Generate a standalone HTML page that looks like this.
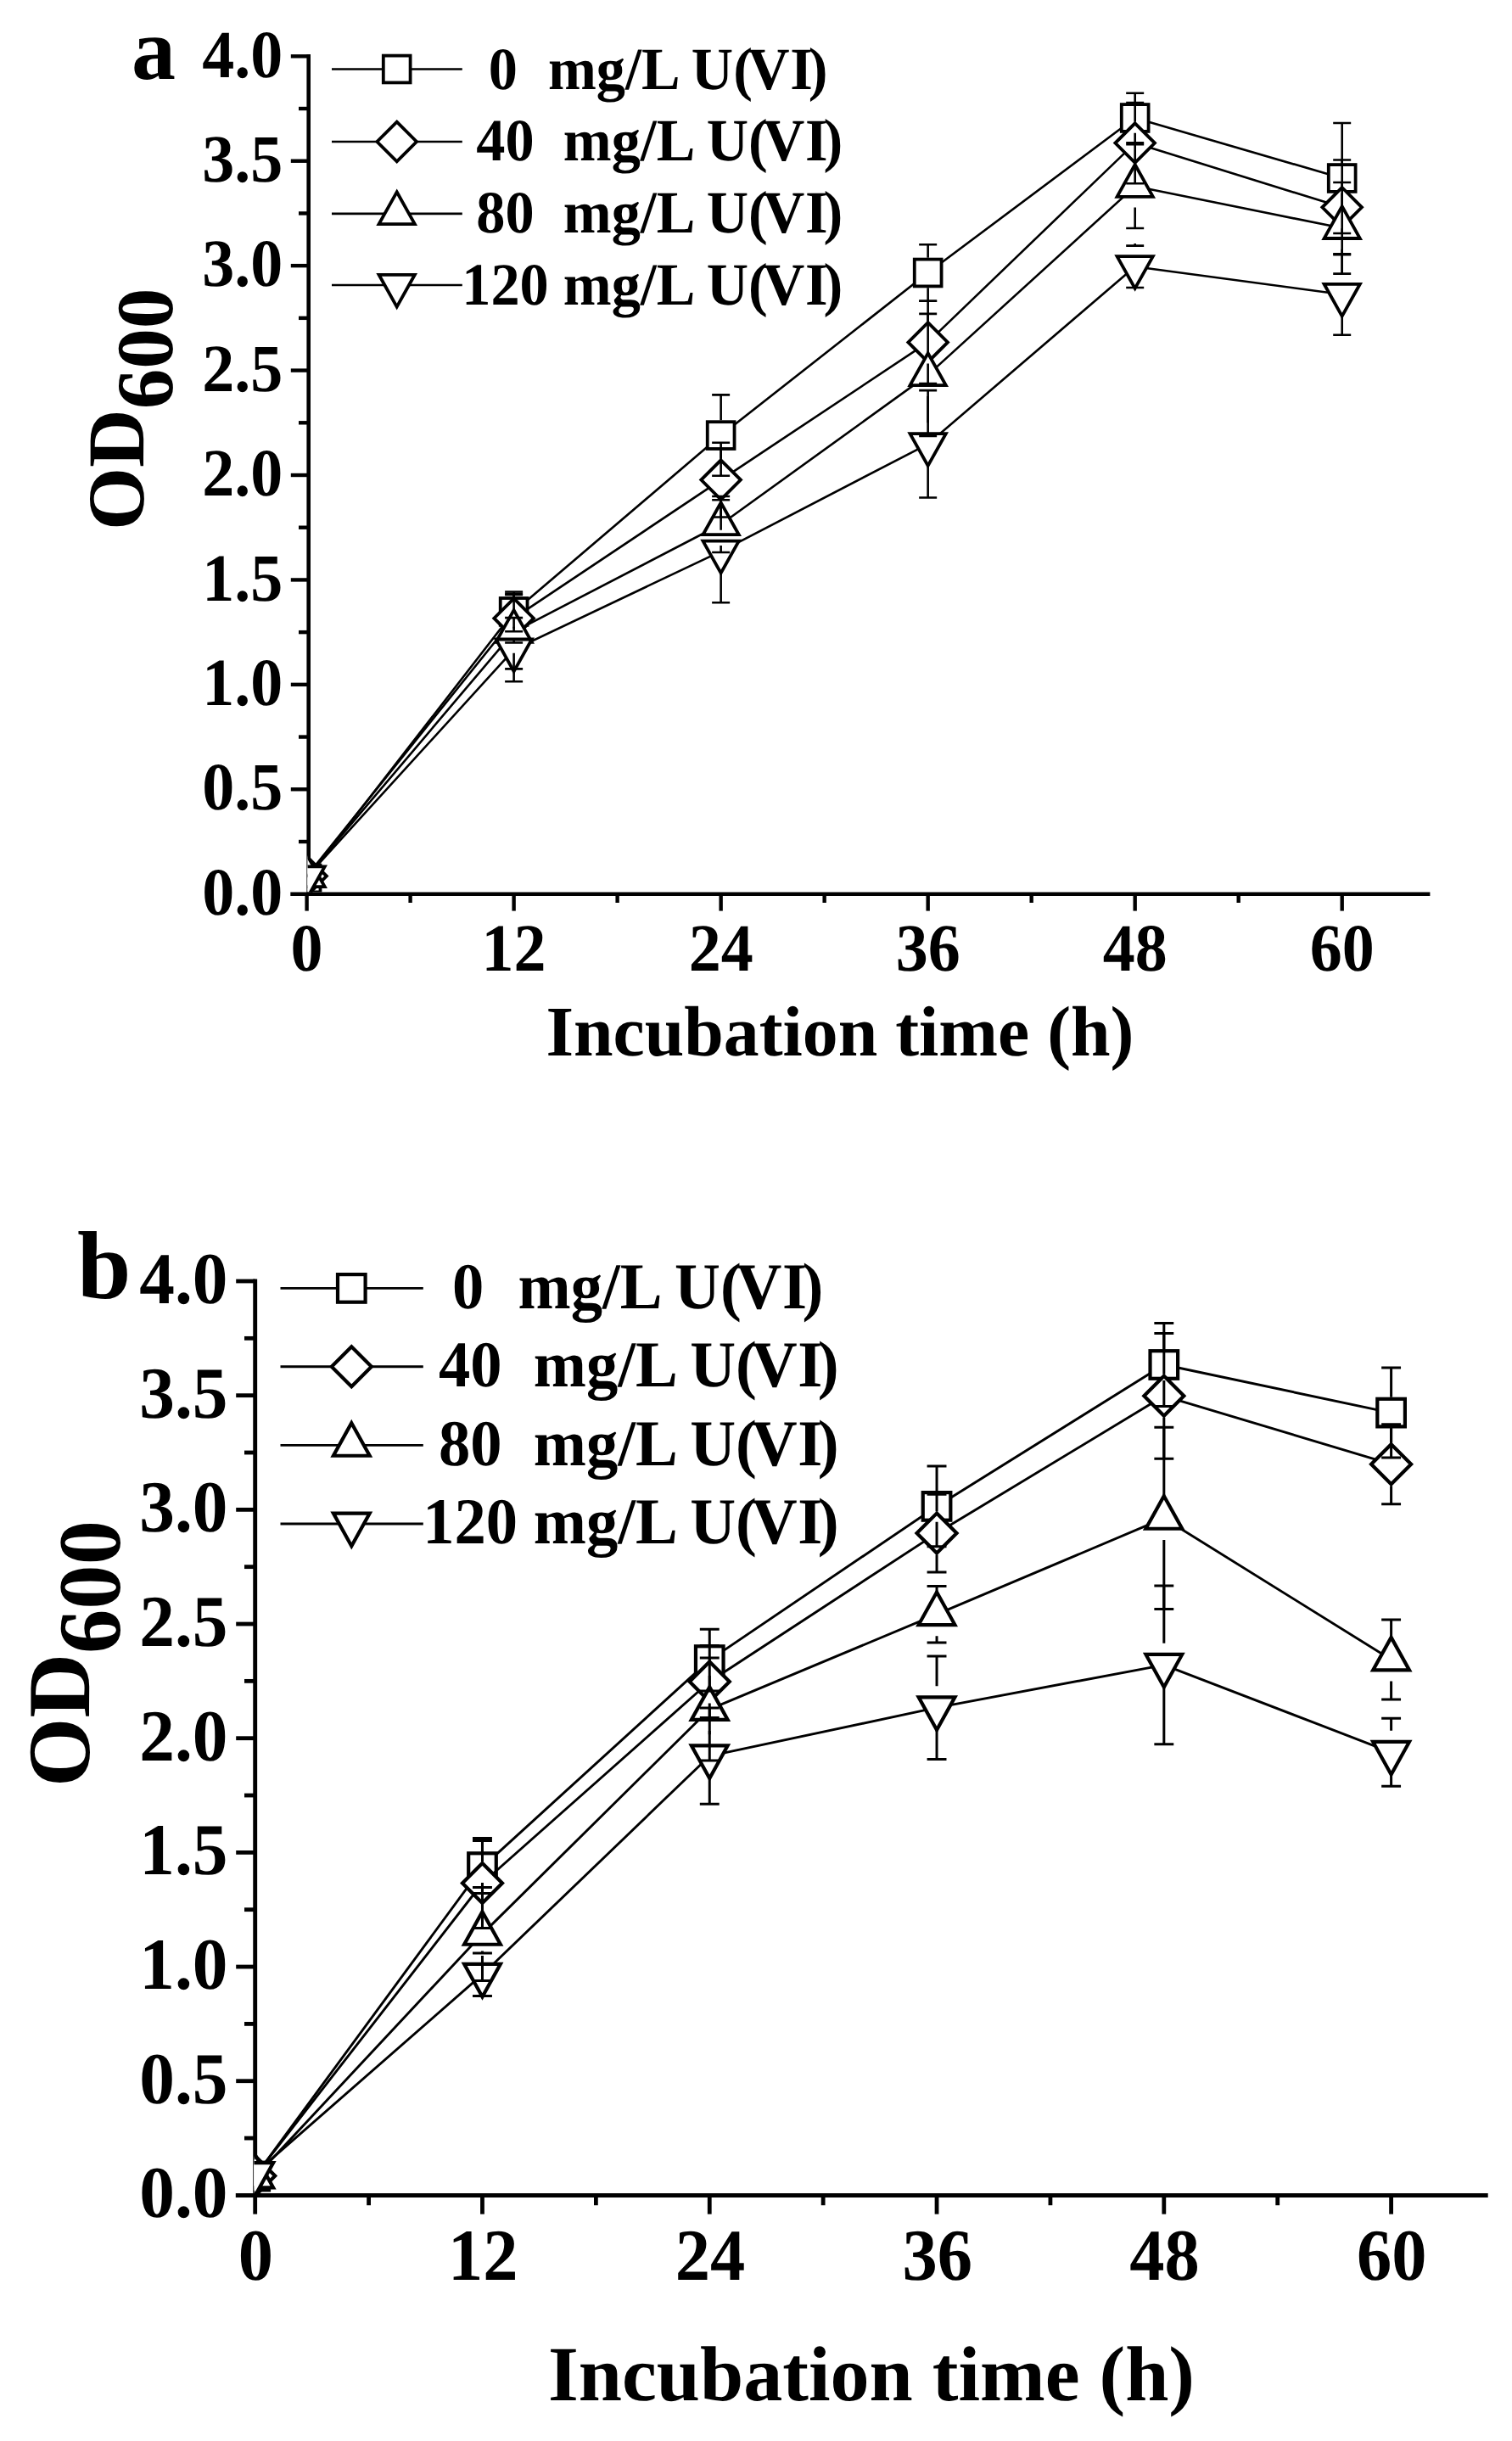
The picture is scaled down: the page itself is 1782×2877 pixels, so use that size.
<!DOCTYPE html>
<html lang="en">
<head>
<meta charset="utf-8">
<title>OD600 growth curves under U(VI) exposure</title>
<style>
html,body{margin:0;padding:0;background:#fff;}
body{width:1782px;height:2877px;overflow:hidden;}
svg{display:block;}
</style>
</head>
<body>
<svg width="1782" height="2877" viewBox="0 0 1782 2877" text-rendering="geometricPrecision">
<rect width="1782" height="2877" fill="#fff"/>
<clipPath id="clipa"><rect x="362.6" y="26.3" width="1352.8" height="1025.1"/></clipPath>
<g stroke="#000" fill="none" stroke-linecap="butt">
<line x1="363.7" y1="64.1" x2="363.7" y2="1056" stroke-width="4.6"/>
<line x1="352" y1="991.99" x2="363.7" y2="991.99" stroke-width="4.4"/>
<line x1="342.8" y1="930.28" x2="363.7" y2="930.28" stroke-width="4.4"/>
<line x1="352" y1="868.56" x2="363.7" y2="868.56" stroke-width="4.4"/>
<line x1="342.8" y1="806.85" x2="363.7" y2="806.85" stroke-width="4.4"/>
<line x1="352" y1="745.14" x2="363.7" y2="745.14" stroke-width="4.4"/>
<line x1="342.8" y1="683.43" x2="363.7" y2="683.43" stroke-width="4.4"/>
<line x1="352" y1="621.71" x2="363.7" y2="621.71" stroke-width="4.4"/>
<line x1="342.8" y1="560" x2="363.7" y2="560" stroke-width="4.4"/>
<line x1="352" y1="498.29" x2="363.7" y2="498.29" stroke-width="4.4"/>
<line x1="342.8" y1="436.58" x2="363.7" y2="436.58" stroke-width="4.4"/>
<line x1="352" y1="374.86" x2="363.7" y2="374.86" stroke-width="4.4"/>
<line x1="342.8" y1="313.15" x2="363.7" y2="313.15" stroke-width="4.4"/>
<line x1="352" y1="251.44" x2="363.7" y2="251.44" stroke-width="4.4"/>
<line x1="342.8" y1="189.73" x2="363.7" y2="189.73" stroke-width="4.4"/>
<line x1="352" y1="128.01" x2="363.7" y2="128.01" stroke-width="4.4"/>
<line x1="342.8" y1="66.3" x2="363.7" y2="66.3" stroke-width="4.4"/>
</g>
<g clip-path="url(#clipa)">
<polyline fill="none" stroke="#000" stroke-width="2.6" stroke-linejoin="round" points="361.6,1035.5 605.62,720.9 849.64,513.1 1093.66,321.5 1337.68,139 1581.7,210"/>
<rect x="345.7" y="1019.6" width="31.8" height="31.8" fill="#fff" stroke="#000" stroke-width="3.8" stroke-linejoin="miter" stroke-miterlimit="10"/>
<rect x="589.72" y="705" width="31.8" height="31.8" fill="#fff" stroke="#000" stroke-width="3.8" stroke-linejoin="miter" stroke-miterlimit="10"/>
<rect x="833.74" y="497.2" width="31.8" height="31.8" fill="#fff" stroke="#000" stroke-width="3.8" stroke-linejoin="miter" stroke-miterlimit="10"/>
<rect x="1077.76" y="305.6" width="31.8" height="31.8" fill="#fff" stroke="#000" stroke-width="3.8" stroke-linejoin="miter" stroke-miterlimit="10"/>
<rect x="1321.78" y="123.1" width="31.8" height="31.8" fill="#fff" stroke="#000" stroke-width="3.8" stroke-linejoin="miter" stroke-miterlimit="10"/>
<rect x="1565.8" y="194.1" width="31.8" height="31.8" fill="#fff" stroke="#000" stroke-width="3.8" stroke-linejoin="miter" stroke-miterlimit="10"/>
<polyline fill="none" stroke="#000" stroke-width="2.6" stroke-linejoin="round" points="361.6,1032.6 605.62,728.7 849.64,565.6 1093.66,403.4 1337.68,168.6 1581.7,244.3"/>
<polygon points="361.6,1009.3 384.9,1032.6 361.6,1055.9 338.3,1032.6" fill="#fff" stroke="#000" stroke-width="3.8" stroke-linejoin="miter" stroke-miterlimit="10"/>
<polygon points="605.62,705.4 628.92,728.7 605.62,752 582.32,728.7" fill="#fff" stroke="#000" stroke-width="3.8" stroke-linejoin="miter" stroke-miterlimit="10"/>
<polygon points="849.64,542.3 872.94,565.6 849.64,588.9 826.34,565.6" fill="#fff" stroke="#000" stroke-width="3.8" stroke-linejoin="miter" stroke-miterlimit="10"/>
<polygon points="1093.66,380.1 1116.96,403.4 1093.66,426.7 1070.36,403.4" fill="#fff" stroke="#000" stroke-width="3.8" stroke-linejoin="miter" stroke-miterlimit="10"/>
<polygon points="1337.68,145.3 1360.98,168.6 1337.68,191.9 1314.38,168.6" fill="#fff" stroke="#000" stroke-width="3.8" stroke-linejoin="miter" stroke-miterlimit="10"/>
<polygon points="1581.7,221 1605,244.3 1581.7,267.6 1558.4,244.3" fill="#fff" stroke="#000" stroke-width="3.8" stroke-linejoin="miter" stroke-miterlimit="10"/>
<polyline fill="none" stroke="#000" stroke-width="2.6" stroke-linejoin="round" points="361.6,1033 605.62,744.7 849.64,618 1093.66,441.9 1337.68,219.6 1581.7,268.8"/>
<polygon points="361.6,1007.38 382.75,1045.21 340.45,1045.21" fill="#fff" stroke="#000" stroke-width="3.8" stroke-linejoin="miter" stroke-miterlimit="10"/>
<polygon points="605.62,719.08 626.77,756.91 584.47,756.91" fill="#fff" stroke="#000" stroke-width="3.8" stroke-linejoin="miter" stroke-miterlimit="10"/>
<polygon points="849.64,592.38 870.79,630.21 828.49,630.21" fill="#fff" stroke="#000" stroke-width="3.8" stroke-linejoin="miter" stroke-miterlimit="10"/>
<polygon points="1093.66,416.28 1114.81,454.11 1072.51,454.11" fill="#fff" stroke="#000" stroke-width="3.8" stroke-linejoin="miter" stroke-miterlimit="10"/>
<polygon points="1337.68,193.98 1358.83,231.81 1316.53,231.81" fill="#fff" stroke="#000" stroke-width="3.8" stroke-linejoin="miter" stroke-miterlimit="10"/>
<polygon points="1581.7,243.18 1602.85,281.01 1560.55,281.01" fill="#fff" stroke="#000" stroke-width="3.8" stroke-linejoin="miter" stroke-miterlimit="10"/>
<polyline fill="none" stroke="#000" stroke-width="2.6" stroke-linejoin="round" points="361.6,1033.5 605.62,765.7 849.64,649.8 1093.66,523.3 1337.68,314.3 1581.7,347"/>
<polygon points="361.6,1059.12 382.75,1021.29 340.45,1021.29" fill="#fff" stroke="#000" stroke-width="3.8" stroke-linejoin="miter" stroke-miterlimit="10"/>
<polygon points="605.62,791.32 626.77,753.49 584.47,753.49" fill="#fff" stroke="#000" stroke-width="3.8" stroke-linejoin="miter" stroke-miterlimit="10"/>
<polygon points="849.64,675.42 870.79,637.59 828.49,637.59" fill="#fff" stroke="#000" stroke-width="3.8" stroke-linejoin="miter" stroke-miterlimit="10"/>
<polygon points="1093.66,548.92 1114.81,511.09 1072.51,511.09" fill="#fff" stroke="#000" stroke-width="3.8" stroke-linejoin="miter" stroke-miterlimit="10"/>
<polygon points="1337.68,339.92 1358.83,302.09 1316.53,302.09" fill="#fff" stroke="#000" stroke-width="3.8" stroke-linejoin="miter" stroke-miterlimit="10"/>
<polygon points="1581.7,372.62 1602.85,334.79 1560.55,334.79" fill="#fff" stroke="#000" stroke-width="3.8" stroke-linejoin="miter" stroke-miterlimit="10"/>
<g stroke="#000" fill="none" stroke-width="2.6" stroke-linecap="butt">
<path d="M595.12 697.5H616.12M605.62 703.1V697.5M595.12 744.3H616.12M605.62 738.7V744.3"/>
<path d="M839.14 465.4H860.14M849.64 495.3V465.4M839.14 560.8H860.14M849.64 530.9V560.8"/>
<path d="M1083.16 288.3H1104.16M1093.66 303.7V288.3M1083.16 354.7H1104.16M1093.66 339.3V354.7"/>
<path d="M1327.18 109.8H1348.18M1337.68 121.2V109.8M1327.18 168.2H1348.18M1337.68 156.8V168.2"/>
<path d="M1571.2 145H1592.2M1581.7 192.2V145M1571.2 275H1592.2M1581.7 227.8V275"/>
<path d="M595.12 699.9H616.12M605.62 703.7V699.9M595.12 757.5H616.12M605.62 753.7V757.5"/>
<path d="M839.14 521.7H860.14M849.64 540.6V521.7M839.14 609.5H860.14M849.64 590.6V609.5"/>
<path d="M1083.16 354.7H1104.16M1093.66 378.4V354.7M1083.16 452.1H1104.16M1093.66 428.4V452.1"/>
<path d="M1327.18 121H1348.18M1337.68 143.6V121M1327.18 216.2H1348.18M1337.68 193.6V216.2"/>
<path d="M1571.2 188.5H1592.2M1581.7 219.3V188.5M1571.2 300.1H1592.2M1581.7 269.3V300.1"/>
<path d="M595.12 701H616.12M605.62 719.7V701M595.12 788.4H616.12M605.62 769.7V788.4"/>
<path d="M839.14 585H860.14M849.64 593V585M839.14 651H860.14M849.64 643V651"/>
<path d="M1083.16 369.9H1104.16M1093.66 416.9V369.9M1083.16 513.9H1104.16M1093.66 466.9V513.9"/>
<path d="M1327.18 170.2H1348.18M1337.68 194.6V170.2M1327.18 269H1348.18M1337.68 244.6V269"/>
<path d="M1571.2 215H1592.2M1581.7 243.8V215M1571.2 322.6H1592.2M1581.7 293.8V322.6"/>
<path d="M595.12 728.1H616.12M605.62 740.7V728.1M595.12 803.3H616.12M605.62 790.7V803.3"/>
<path d="M839.14 589.3H860.14M849.64 624.8V589.3M839.14 710.3H860.14M849.64 674.8V710.3"/>
<path d="M1083.16 460.1H1104.16M1093.66 498.3V460.1M1083.16 586.5H1104.16M1093.66 548.3V586.5"/>
<path d="M1327.18 289.6H1348.18M1337.68 289.6V287.1M1327.18 339H1348.18M1337.68 339V341.5"/>
<path d="M1571.2 299.2H1592.2M1581.7 322V299.2M1571.2 394.8H1592.2M1581.7 372V394.8"/>
</g>
</g>
<g stroke="#000" fill="none" stroke-linecap="butt">
<line x1="342.3" y1="1053.7" x2="1685.4" y2="1053.7" stroke-width="4.6"/>
<line x1="361.6" y1="1053.7" x2="361.6" y2="1073.6" stroke-width="4.4"/>
<line x1="483.61" y1="1053.7" x2="483.61" y2="1064" stroke-width="4.4"/>
<line x1="605.62" y1="1053.7" x2="605.62" y2="1073.6" stroke-width="4.4"/>
<line x1="727.63" y1="1053.7" x2="727.63" y2="1064" stroke-width="4.4"/>
<line x1="849.64" y1="1053.7" x2="849.64" y2="1073.6" stroke-width="4.4"/>
<line x1="971.65" y1="1053.7" x2="971.65" y2="1064" stroke-width="4.4"/>
<line x1="1093.66" y1="1053.7" x2="1093.66" y2="1073.6" stroke-width="4.4"/>
<line x1="1215.67" y1="1053.7" x2="1215.67" y2="1064" stroke-width="4.4"/>
<line x1="1337.68" y1="1053.7" x2="1337.68" y2="1073.6" stroke-width="4.4"/>
<line x1="1459.69" y1="1053.7" x2="1459.69" y2="1064" stroke-width="4.4"/>
<line x1="1581.7" y1="1053.7" x2="1581.7" y2="1073.6" stroke-width="4.4"/>
</g>
<g font-family='"Liberation Serif", "DejaVu Serif", serif' font-weight="bold" fill="#000">
<text transform="translate(333.2 1077.9) scale(1.0000 1.0470)" font-size="76" text-anchor="end">0.0</text>
<text transform="translate(333.2 954.48) scale(1.0000 1.0470)" font-size="76" text-anchor="end">0.5</text>
<text transform="translate(333.2 831.05) scale(1.0000 1.0470)" font-size="76" text-anchor="end">1.0</text>
<text transform="translate(333.2 707.63) scale(1.0000 1.0470)" font-size="76" text-anchor="end">1.5</text>
<text transform="translate(333.2 584.2) scale(1.0000 1.0470)" font-size="76" text-anchor="end">2.0</text>
<text transform="translate(333.2 460.78) scale(1.0000 1.0470)" font-size="76" text-anchor="end">2.5</text>
<text transform="translate(333.2 337.35) scale(1.0000 1.0470)" font-size="76" text-anchor="end">3.0</text>
<text transform="translate(333.2 213.93) scale(1.0000 1.0470)" font-size="76" text-anchor="end">3.5</text>
<text transform="translate(333.2 90.5) scale(1.0000 1.0470)" font-size="76" text-anchor="end">4.0</text>
<text transform="translate(361.6 1144.4) scale(1.0000 1.0470)" font-size="76" text-anchor="middle">0</text>
<text transform="translate(605.62 1144.4) scale(1.0000 1.0470)" font-size="76" text-anchor="middle">12</text>
<text transform="translate(849.64 1144.4) scale(1.0000 1.0470)" font-size="76" text-anchor="middle">24</text>
<text transform="translate(1093.66 1144.4) scale(1.0000 1.0470)" font-size="76" text-anchor="middle">36</text>
<text transform="translate(1337.68 1144.4) scale(1.0000 1.0470)" font-size="76" text-anchor="middle">48</text>
<text transform="translate(1581.7 1144.4) scale(1.0000 1.0470)" font-size="76" text-anchor="middle">60</text>
<text transform="translate(643.4 1244.3) scale(1.0087 1.0120)" font-size="83">Incubation time (h)</text>
<text transform="translate(169.4 625.1) rotate(-90)" font-size="95.2">OD<tspan dy="34" dx="0">600</tspan></text>
<text transform="translate(155 93) scale(1.0000 1.0000)" font-size="104">a</text>
</g>
<line x1="391" y1="81.5" x2="544.8" y2="81.5" stroke="#000" stroke-width="2.6"/>
<rect x="451.8" y="65.6" width="31.8" height="31.8" fill="#fff" stroke="#000" stroke-width="3.8" stroke-linejoin="miter" stroke-miterlimit="10"/>
<text transform="translate(0 105) scale(1 1.0350)" font-family='"Liberation Serif", "DejaVu Serif", serif' font-weight="bold" font-size="68.3"><tspan x="609.85" text-anchor="end">0</tspan><tspan x="628.92"> mg/L U(</tspan><tspan x="881.29">V</tspan><tspan x="931.15">I</tspan><tspan x="952.67">)</tspan></text>
<line x1="391" y1="167" x2="544.8" y2="167" stroke="#000" stroke-width="2.6"/>
<polygon points="467.7,143.7 491,167 467.7,190.3 444.4,167" fill="#fff" stroke="#000" stroke-width="3.8" stroke-linejoin="miter" stroke-miterlimit="10"/>
<text transform="translate(0 188.5) scale(1 1.0350)" font-family='"Liberation Serif", "DejaVu Serif", serif' font-weight="bold" font-size="68.3"><tspan x="629.65" text-anchor="end">40</tspan><tspan x="646.72"> mg/L U(</tspan><tspan x="899.09">V</tspan><tspan x="948.95">I</tspan><tspan x="970.47">)</tspan></text>
<line x1="391" y1="251.9" x2="544.8" y2="251.9" stroke="#000" stroke-width="2.6"/>
<polygon points="467.7,226.28 488.85,264.11 446.55,264.11" fill="#fff" stroke="#000" stroke-width="3.8" stroke-linejoin="miter" stroke-miterlimit="10"/>
<text transform="translate(0 273.8) scale(1 1.0350)" font-family='"Liberation Serif", "DejaVu Serif", serif' font-weight="bold" font-size="68.3"><tspan x="629.65" text-anchor="end">80</tspan><tspan x="646.72"> mg/L U(</tspan><tspan x="899.09">V</tspan><tspan x="948.95">I</tspan><tspan x="970.47">)</tspan></text>
<line x1="391" y1="336" x2="544.8" y2="336" stroke="#000" stroke-width="2.6"/>
<polygon points="467.7,361.62 488.85,323.79 446.55,323.79" fill="#fff" stroke="#000" stroke-width="3.8" stroke-linejoin="miter" stroke-miterlimit="10"/>
<text transform="translate(0 359) scale(1 1.0350)" font-family='"Liberation Serif", "DejaVu Serif", serif' font-weight="bold" font-size="68.3"><tspan x="646.72" text-anchor="end">120</tspan><tspan x="646.72"> mg/L U(</tspan><tspan x="899.09">V</tspan><tspan x="948.95">I</tspan><tspan x="970.47">)</tspan></text>
<clipPath id="clipb"><rect x="299.45" y="1470" width="1484.25" height="1114.9"/></clipPath>
<g stroke="#000" fill="none" stroke-linecap="butt">
<line x1="300.7" y1="1507.6" x2="300.7" y2="2589.9" stroke-width="4.9"/>
<line x1="288" y1="2520.06" x2="300.7" y2="2520.06" stroke-width="4.8"/>
<line x1="278.2" y1="2452.72" x2="300.7" y2="2452.72" stroke-width="4.8"/>
<line x1="288" y1="2385.39" x2="300.7" y2="2385.39" stroke-width="4.8"/>
<line x1="278.2" y1="2318.05" x2="300.7" y2="2318.05" stroke-width="4.8"/>
<line x1="288" y1="2250.71" x2="300.7" y2="2250.71" stroke-width="4.8"/>
<line x1="278.2" y1="2183.38" x2="300.7" y2="2183.38" stroke-width="4.8"/>
<line x1="288" y1="2116.04" x2="300.7" y2="2116.04" stroke-width="4.8"/>
<line x1="278.2" y1="2048.7" x2="300.7" y2="2048.7" stroke-width="4.8"/>
<line x1="288" y1="1981.36" x2="300.7" y2="1981.36" stroke-width="4.8"/>
<line x1="278.2" y1="1914.03" x2="300.7" y2="1914.03" stroke-width="4.8"/>
<line x1="288" y1="1846.69" x2="300.7" y2="1846.69" stroke-width="4.8"/>
<line x1="278.2" y1="1779.35" x2="300.7" y2="1779.35" stroke-width="4.8"/>
<line x1="288" y1="1712.01" x2="300.7" y2="1712.01" stroke-width="4.8"/>
<line x1="278.2" y1="1644.67" x2="300.7" y2="1644.67" stroke-width="4.8"/>
<line x1="288" y1="1577.34" x2="300.7" y2="1577.34" stroke-width="4.8"/>
<line x1="278.2" y1="1510" x2="300.7" y2="1510" stroke-width="4.8"/>
</g>
<g clip-path="url(#clipb)">
<polyline fill="none" stroke="#000" stroke-width="2.9" stroke-linejoin="round" points="300.7,2565 568.48,2200.6 836.26,1956.6 1104.04,1775.4 1371.82,1608.5 1639.6,1665.1"/>
<rect x="284.4" y="2548.7" width="32.6" height="32.6" fill="#fff" stroke="#000" stroke-width="4.2" stroke-linejoin="miter" stroke-miterlimit="10"/>
<rect x="552.18" y="2184.3" width="32.6" height="32.6" fill="#fff" stroke="#000" stroke-width="4.2" stroke-linejoin="miter" stroke-miterlimit="10"/>
<rect x="819.96" y="1940.3" width="32.6" height="32.6" fill="#fff" stroke="#000" stroke-width="4.2" stroke-linejoin="miter" stroke-miterlimit="10"/>
<rect x="1087.74" y="1759.1" width="32.6" height="32.6" fill="#fff" stroke="#000" stroke-width="4.2" stroke-linejoin="miter" stroke-miterlimit="10"/>
<rect x="1355.52" y="1592.2" width="32.6" height="32.6" fill="#fff" stroke="#000" stroke-width="4.2" stroke-linejoin="miter" stroke-miterlimit="10"/>
<rect x="1623.3" y="1648.8" width="32.6" height="32.6" fill="#fff" stroke="#000" stroke-width="4.2" stroke-linejoin="miter" stroke-miterlimit="10"/>
<polyline fill="none" stroke="#000" stroke-width="2.9" stroke-linejoin="round" points="300.7,2564.5 568.48,2219.5 836.26,1982 1104.04,1807.1 1371.82,1645.3 1639.6,1725.7"/>
<polygon points="300.7,2541 324.2,2564.5 300.7,2588 277.2,2564.5" fill="#fff" stroke="#000" stroke-width="4.2" stroke-linejoin="miter" stroke-miterlimit="10"/>
<polygon points="568.48,2196 591.98,2219.5 568.48,2243 544.98,2219.5" fill="#fff" stroke="#000" stroke-width="4.2" stroke-linejoin="miter" stroke-miterlimit="10"/>
<polygon points="836.26,1958.5 859.76,1982 836.26,2005.5 812.76,1982" fill="#fff" stroke="#000" stroke-width="4.2" stroke-linejoin="miter" stroke-miterlimit="10"/>
<polygon points="1104.04,1783.6 1127.54,1807.1 1104.04,1830.6 1080.54,1807.1" fill="#fff" stroke="#000" stroke-width="4.2" stroke-linejoin="miter" stroke-miterlimit="10"/>
<polygon points="1371.82,1621.8 1395.32,1645.3 1371.82,1668.8 1348.32,1645.3" fill="#fff" stroke="#000" stroke-width="4.2" stroke-linejoin="miter" stroke-miterlimit="10"/>
<polygon points="1639.6,1702.2 1663.1,1725.7 1639.6,1749.2 1616.1,1725.7" fill="#fff" stroke="#000" stroke-width="4.2" stroke-linejoin="miter" stroke-miterlimit="10"/>
<polyline fill="none" stroke="#000" stroke-width="2.9" stroke-linejoin="round" points="300.7,2566 568.48,2279.4 836.26,2014.6 1104.04,1902.7 1371.82,1789.4 1639.6,1956.1"/>
<polygon points="300.7,2539.79 322.1,2578.36 279.3,2578.36" fill="#fff" stroke="#000" stroke-width="4.2" stroke-linejoin="miter" stroke-miterlimit="10"/>
<polygon points="568.48,2253.19 589.88,2291.76 547.08,2291.76" fill="#fff" stroke="#000" stroke-width="4.2" stroke-linejoin="miter" stroke-miterlimit="10"/>
<polygon points="836.26,1988.39 857.66,2026.96 814.86,2026.96" fill="#fff" stroke="#000" stroke-width="4.2" stroke-linejoin="miter" stroke-miterlimit="10"/>
<polygon points="1104.04,1876.49 1125.44,1915.06 1082.64,1915.06" fill="#fff" stroke="#000" stroke-width="4.2" stroke-linejoin="miter" stroke-miterlimit="10"/>
<polygon points="1371.82,1763.19 1393.22,1801.76 1350.42,1801.76" fill="#fff" stroke="#000" stroke-width="4.2" stroke-linejoin="miter" stroke-miterlimit="10"/>
<polygon points="1639.6,1929.89 1661,1968.46 1618.2,1968.46" fill="#fff" stroke="#000" stroke-width="4.2" stroke-linejoin="miter" stroke-miterlimit="10"/>
<polyline fill="none" stroke="#000" stroke-width="2.9" stroke-linejoin="round" points="300.7,2561.5 568.48,2327.2 836.26,2069.7 1104.04,2012.7 1371.82,1962.3 1639.6,2065.3"/>
<polygon points="300.7,2587.71 322.1,2549.14 279.3,2549.14" fill="#fff" stroke="#000" stroke-width="4.2" stroke-linejoin="miter" stroke-miterlimit="10"/>
<polygon points="568.48,2353.41 589.88,2314.84 547.08,2314.84" fill="#fff" stroke="#000" stroke-width="4.2" stroke-linejoin="miter" stroke-miterlimit="10"/>
<polygon points="836.26,2095.91 857.66,2057.34 814.86,2057.34" fill="#fff" stroke="#000" stroke-width="4.2" stroke-linejoin="miter" stroke-miterlimit="10"/>
<polygon points="1104.04,2038.91 1125.44,2000.34 1082.64,2000.34" fill="#fff" stroke="#000" stroke-width="4.2" stroke-linejoin="miter" stroke-miterlimit="10"/>
<polygon points="1371.82,1988.51 1393.22,1949.94 1350.42,1949.94" fill="#fff" stroke="#000" stroke-width="4.2" stroke-linejoin="miter" stroke-miterlimit="10"/>
<polygon points="1639.6,2091.51 1661,2052.94 1618.2,2052.94" fill="#fff" stroke="#000" stroke-width="4.2" stroke-linejoin="miter" stroke-miterlimit="10"/>
<g stroke="#000" fill="none" stroke-width="3" stroke-linecap="butt">
<path d="M557.03 2169.6H579.93M568.48 2182.2V2169.6M557.03 2231.6H579.93M568.48 2219V2231.6"/>
<path d="M824.81 1920.3H847.71M836.26 1938.2V1920.3M824.81 1992.9H847.71M836.26 1975V1992.9"/>
<path d="M1092.59 1728H1115.49M1104.04 1757V1728M1092.59 1822.8H1115.49M1104.04 1793.8V1822.8"/>
<path d="M1360.37 1559.4H1383.27M1371.82 1590.1V1559.4M1360.37 1657.6H1383.27M1371.82 1626.9V1657.6"/>
<path d="M1628.15 1612.1H1651.05M1639.6 1646.7V1612.1M1628.15 1718.1H1651.05M1639.6 1683.5V1718.1"/>
<path d="M557.03 2166.5H579.93M568.48 2194V2166.5M557.03 2272.5H579.93M568.48 2245V2272.5"/>
<path d="M824.81 1939.5H847.71M836.26 1956.5V1939.5M824.81 2024.5H847.71M836.26 2007.5V2024.5"/>
<path d="M1092.59 1761.3H1115.49M1104.04 1781.6V1761.3M1092.59 1852.9H1115.49M1104.04 1832.6V1852.9"/>
<path d="M1360.37 1571.4H1383.27M1371.82 1619.8V1571.4M1360.37 1719.2H1383.27M1371.82 1670.8V1719.2"/>
<path d="M1628.15 1678.7H1651.05M1639.6 1700.2V1678.7M1628.15 1772.7H1651.05M1639.6 1751.2V1772.7"/>
<path d="M557.03 2224.4H579.93M568.48 2253.9V2224.4M557.03 2334.4H579.93M568.48 2304.9V2334.4"/>
<path d="M824.81 1954.1H847.71M836.26 1989.1V1954.1M824.81 2075.1H847.71M836.26 2040.1V2075.1"/>
<path d="M1092.59 1869.5H1115.49M1104.04 1877.2V1869.5M1092.59 1935.9H1115.49M1104.04 1928.2V1935.9"/>
<path d="M1360.37 1682.2H1383.27M1371.82 1763.9V1682.2M1360.37 1896.6H1383.27M1371.82 1814.9V1896.6"/>
<path d="M1628.15 1909.1H1651.05M1639.6 1930.6V1909.1M1628.15 2003.1H1651.05M1639.6 1981.6V2003.1"/>
<path d="M557.03 2302H579.93M568.48 2302V2299.5M557.03 2352.4H579.93M568.48 2352.4V2354.9"/>
<path d="M824.81 2013.1H847.71M836.26 2044.2V2013.1M824.81 2126.3H847.71M836.26 2095.2V2126.3"/>
<path d="M1092.59 1951.9H1115.49M1104.04 1987.2V1951.9M1092.59 2073.5H1115.49M1104.04 2038.2V2073.5"/>
<path d="M1360.37 1868.9H1383.27M1371.82 1936.8V1868.9M1360.37 2055.7H1383.27M1371.82 1987.8V2055.7"/>
<path d="M1628.15 2025.3H1651.05M1639.6 2039.8V2025.3M1628.15 2105.3H1651.05M1639.6 2090.8V2105.3"/>
</g>
</g>
<g stroke="#000" fill="none" stroke-linecap="butt">
<line x1="277.8" y1="2587.4" x2="1753.7" y2="2587.4" stroke-width="5"/>
<line x1="300.7" y1="2587.4" x2="300.7" y2="2609.6" stroke-width="4.8"/>
<line x1="434.59" y1="2587.4" x2="434.59" y2="2599.2" stroke-width="4.8"/>
<line x1="568.48" y1="2587.4" x2="568.48" y2="2609.6" stroke-width="4.8"/>
<line x1="702.37" y1="2587.4" x2="702.37" y2="2599.2" stroke-width="4.8"/>
<line x1="836.26" y1="2587.4" x2="836.26" y2="2609.6" stroke-width="4.8"/>
<line x1="970.15" y1="2587.4" x2="970.15" y2="2599.2" stroke-width="4.8"/>
<line x1="1104.04" y1="2587.4" x2="1104.04" y2="2609.6" stroke-width="4.8"/>
<line x1="1237.93" y1="2587.4" x2="1237.93" y2="2599.2" stroke-width="4.8"/>
<line x1="1371.82" y1="2587.4" x2="1371.82" y2="2609.6" stroke-width="4.8"/>
<line x1="1505.71" y1="2587.4" x2="1505.71" y2="2599.2" stroke-width="4.8"/>
<line x1="1639.6" y1="2587.4" x2="1639.6" y2="2609.6" stroke-width="4.8"/>
</g>
<g font-family='"Liberation Serif", "DejaVu Serif", serif' font-weight="bold" fill="#000">
<text transform="translate(268.4 2613.4) scale(1.0100 1.0470)" font-size="82.5" text-anchor="end">0.0</text>
<text transform="translate(268.4 2478.72) scale(1.0100 1.0470)" font-size="82.5" text-anchor="end">0.5</text>
<text transform="translate(268.4 2344.05) scale(1.0100 1.0470)" font-size="82.5" text-anchor="end">1.0</text>
<text transform="translate(268.4 2209.38) scale(1.0100 1.0470)" font-size="82.5" text-anchor="end">1.5</text>
<text transform="translate(268.4 2074.7) scale(1.0100 1.0470)" font-size="82.5" text-anchor="end">2.0</text>
<text transform="translate(268.4 1940.03) scale(1.0100 1.0470)" font-size="82.5" text-anchor="end">2.5</text>
<text transform="translate(268.4 1805.35) scale(1.0100 1.0470)" font-size="82.5" text-anchor="end">3.0</text>
<text transform="translate(268.4 1670.67) scale(1.0100 1.0470)" font-size="82.5" text-anchor="end">3.5</text>
<text transform="translate(268.4 1536) scale(1.0100 1.0470)" font-size="82.5" text-anchor="end">4.0</text>
<text transform="translate(301.4 2686.8) scale(1.0000 1.0470)" font-size="82.5" text-anchor="middle">0</text>
<text transform="translate(569.18 2686.8) scale(1.0000 1.0470)" font-size="82.5" text-anchor="middle">12</text>
<text transform="translate(836.96 2686.8) scale(1.0000 1.0470)" font-size="82.5" text-anchor="middle">24</text>
<text transform="translate(1104.74 2686.8) scale(1.0000 1.0470)" font-size="82.5" text-anchor="middle">36</text>
<text transform="translate(1372.52 2686.8) scale(1.0000 1.0470)" font-size="82.5" text-anchor="middle">48</text>
<text transform="translate(1640.3 2686.8) scale(1.0000 1.0470)" font-size="82.5" text-anchor="middle">60</text>
<text transform="translate(646 2828.5) scale(1.0115 1.0120)" font-size="91">Incubation time (h)</text>
<text transform="translate(104.5 2106) rotate(-90)" font-size="104.7">OD<tspan dy="36" dx="0">600</tspan></text>
<text transform="translate(91 1530) scale(1.0000 1.0000)" font-size="114">b</text>
</g>
<line x1="330.5" y1="1518.4" x2="498.8" y2="1518.4" stroke="#000" stroke-width="2.9"/>
<rect x="398" y="1502.1" width="32.6" height="32.6" fill="#fff" stroke="#000" stroke-width="4.2" stroke-linejoin="miter" stroke-miterlimit="10"/>
<text transform="translate(0 1542.2) scale(1 1.0350)" font-family='"Liberation Serif", "DejaVu Serif", serif' font-weight="bold" font-size="74.6"><tspan x="570.3" text-anchor="end">0</tspan><tspan x="591.95"> mg/L U(</tspan><tspan x="867.6">V</tspan><tspan x="922.06">I</tspan><tspan x="945.55">)</tspan></text>
<line x1="330.5" y1="1610.8" x2="498.8" y2="1610.8" stroke="#000" stroke-width="2.9"/>
<polygon points="414.3,1587.3 437.8,1610.8 414.3,1634.3 390.8,1610.8" fill="#fff" stroke="#000" stroke-width="4.2" stroke-linejoin="miter" stroke-miterlimit="10"/>
<text transform="translate(0 1634.3) scale(1 1.0350)" font-family='"Liberation Serif", "DejaVu Serif", serif' font-weight="bold" font-size="74.6"><tspan x="591.5" text-anchor="end">40</tspan><tspan x="610.15"> mg/L U(</tspan><tspan x="885.8">V</tspan><tspan x="940.25">I</tspan><tspan x="963.75">)</tspan></text>
<line x1="330.5" y1="1703.4" x2="498.8" y2="1703.4" stroke="#000" stroke-width="2.9"/>
<polygon points="414.3,1677.19 435.7,1715.76 392.9,1715.76" fill="#fff" stroke="#000" stroke-width="4.2" stroke-linejoin="miter" stroke-miterlimit="10"/>
<text transform="translate(0 1726.7) scale(1 1.0350)" font-family='"Liberation Serif", "DejaVu Serif", serif' font-weight="bold" font-size="74.6"><tspan x="591.5" text-anchor="end">80</tspan><tspan x="610.15"> mg/L U(</tspan><tspan x="885.8">V</tspan><tspan x="940.25">I</tspan><tspan x="963.75">)</tspan></text>
<line x1="330.5" y1="1796" x2="498.8" y2="1796" stroke="#000" stroke-width="2.9"/>
<polygon points="414.3,1822.21 435.7,1783.64 392.9,1783.64" fill="#fff" stroke="#000" stroke-width="4.2" stroke-linejoin="miter" stroke-miterlimit="10"/>
<text transform="translate(0 1818.8) scale(1 1.0350)" font-family='"Liberation Serif", "DejaVu Serif", serif' font-weight="bold" font-size="74.6"><tspan x="610.15" text-anchor="end">120</tspan><tspan x="610.15"> mg/L U(</tspan><tspan x="885.8">V</tspan><tspan x="940.25">I</tspan><tspan x="963.75">)</tspan></text>
</svg>
</body>
</html>
